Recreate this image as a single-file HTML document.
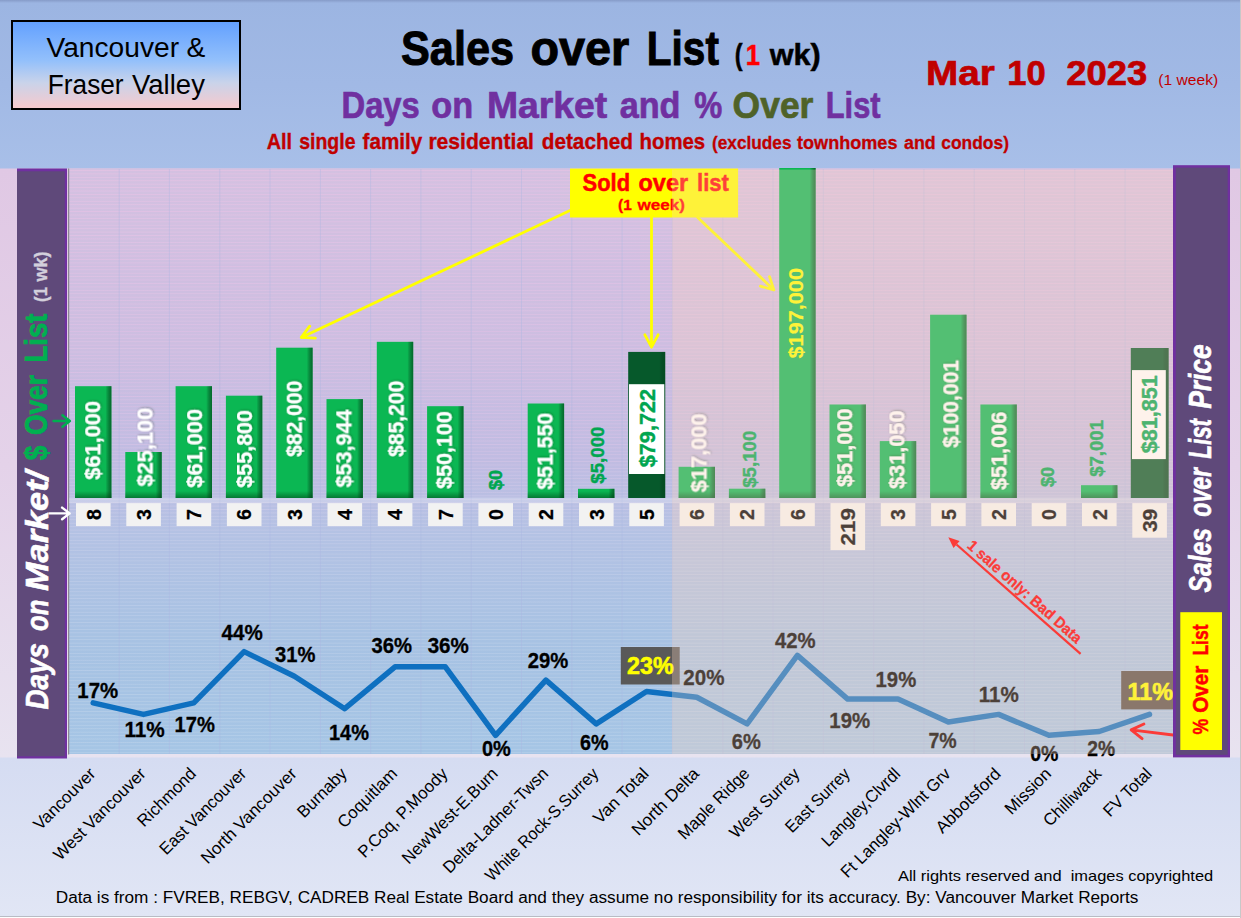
<!DOCTYPE html>
<html lang="en"><head><meta charset="utf-8"><title>Sales over List - Days on Market and % Over List</title>
<style>
html,body{margin:0;padding:0;background:#fff;}
body{width:1241px;height:918px;overflow:hidden;}
svg{display:block;font-family:'Liberation Sans', sans-serif;}
text{white-space:pre;}
.b{font-weight:bold;}
.bi{font-weight:bold;font-style:italic;}
</style></head><body>
<svg width="1241" height="918" viewBox="0 0 1241 918">
<defs>
<linearGradient id="gHead" x1="0" y1="0" x2="0" y2="1"><stop offset="0" stop-color="#869bc8"/><stop offset="0.018" stop-color="#9cb5e2"/><stop offset="0.5" stop-color="#a1b9e5"/><stop offset="1" stop-color="#a8bfe8"/></linearGradient>
<linearGradient id="gSide" x1="0" y1="0" x2="0" y2="1"><stop offset="0" stop-color="#e0c8e4"/><stop offset="0.5" stop-color="#e4d2e9"/><stop offset="1" stop-color="#e8e3f0"/></linearGradient>
<linearGradient id="gFoot" x1="0" y1="0" x2="0" y2="1"><stop offset="0" stop-color="#d5dcf2"/><stop offset="1" stop-color="#e1e6f5"/></linearGradient>
<linearGradient id="gPlot" x1="0" y1="0" x2="0" y2="1"><stop offset="0" stop-color="#d4c1e1"/><stop offset="0.30" stop-color="#cdbee1"/><stop offset="0.50" stop-color="#c0bce2"/><stop offset="0.62" stop-color="#b4c2e4"/><stop offset="0.80" stop-color="#a7c2e3"/><stop offset="1" stop-color="#a5c5e5"/></linearGradient>
<linearGradient id="gBox" x1="0" y1="0" x2="0" y2="1"><stop offset="0" stop-color="#62a0ff"/><stop offset="0.45" stop-color="#93c0fb"/><stop offset="0.7" stop-color="#c9d3ea"/><stop offset="1" stop-color="#f8c9cc"/></linearGradient>
<linearGradient id="gBarR" x1="0" y1="0" x2="1" y2="0"><stop offset="0" stop-color="#000" stop-opacity="0"/><stop offset="0.84" stop-color="#000" stop-opacity="0"/><stop offset="1" stop-color="#003a12" stop-opacity="0.62"/></linearGradient>
<linearGradient id="gBarB" x1="0" y1="0" x2="0" y2="1"><stop offset="0" stop-color="#003a12" stop-opacity="0"/><stop offset="1" stop-color="#003a12" stop-opacity="0.5"/></linearGradient>
<filter id="ts" x="-20%" y="-20%" width="140%" height="140%"><feDropShadow dx="0.8" dy="0.8" stdDeviation="0.9" flood-color="#003010" flood-opacity="0.4"/></filter>
<pattern id="hgrid" x="0" y="170.00" width="10" height="3.425" patternUnits="userSpaceOnUse"><rect x="0" y="0" width="10" height="0.9" fill="#ffffff"/></pattern>
<mask id="mgrid"><rect x="68.0" y="169.0" width="1105.0" height="585.0" fill="url(#hgrid)"/></mask>
<linearGradient id="gLines" x1="0" y1="0" x2="0" y2="1"><stop offset="0" stop-color="#f4c4e8" stop-opacity="0.42"/><stop offset="0.45" stop-color="#ecc6ea" stop-opacity="0.34"/><stop offset="0.65" stop-color="#e6e6f6" stop-opacity="0.22"/><stop offset="1" stop-color="#ffffff" stop-opacity="0.16"/></linearGradient>
</defs>
<rect x="0" y="0" width="1241" height="918" fill="#ffffff"/>
<rect x="0" y="0" width="1241" height="169" fill="url(#gHead)"/>
<rect x="0" y="168.5" width="1241" height="592" fill="url(#gSide)"/>
<rect x="0" y="757.5" width="1240" height="158.5" fill="url(#gFoot)"/>
<rect x="0" y="916" width="1241" height="1" fill="#b9bcc4"/>
<rect x="1240" y="0" width="1" height="918" fill="#c8c8c8"/>
<rect x="68.0" y="168.5" width="1105.0" height="585.5" fill="url(#gPlot)"/>
<rect x="68.0" y="169.0" width="1105.0" height="585.0" fill="url(#gLines)" mask="url(#mgrid)"/>
<path d="M119.2 169.0V754.0M169.4 169.0V754.0M219.8 169.0V754.0M270.0 169.0V754.0M320.4 169.0V754.0M370.6 169.0V754.0M420.9 169.0V754.0M471.2 169.0V754.0M521.5 169.0V754.0M571.8 169.0V754.0M622.1 169.0V754.0M672.4 169.0V754.0M722.8 169.0V754.0M773.0 169.0V754.0M823.3 169.0V754.0M873.6 169.0V754.0M923.9 169.0V754.0M974.2 169.0V754.0M1024.5 169.0V754.0M1074.8 169.0V754.0M1125.1 169.0V754.0" stroke="#aab6e2" stroke-opacity="0.38" stroke-width="1" fill="none"/>
<rect x="68" y="168.5" width="1.2" height="586" fill="#8a8a92"/>
<rect x="69.0" y="497.6" width="1104.0" height="5.6" fill="#ffffff" fill-opacity="0.22"/>
<rect x="75.0" y="386.2" width="36.4" height="111.8" fill="#0bb753"/>
<rect x="75.0" y="386.2" width="36.4" height="111.8" fill="url(#gBarR)"/>
<rect x="75.0" y="491.0" width="36.4" height="7.0" fill="url(#gBarB)"/>
<rect x="125.3" y="452.0" width="36.4" height="46.0" fill="#0bb753"/>
<rect x="125.3" y="452.0" width="36.4" height="46.0" fill="url(#gBarR)"/>
<rect x="125.3" y="491.0" width="36.4" height="7.0" fill="url(#gBarB)"/>
<rect x="175.6" y="386.2" width="36.4" height="111.8" fill="#0bb753"/>
<rect x="175.6" y="386.2" width="36.4" height="111.8" fill="url(#gBarR)"/>
<rect x="175.6" y="491.0" width="36.4" height="7.0" fill="url(#gBarB)"/>
<rect x="225.9" y="395.7" width="36.4" height="102.3" fill="#0bb753"/>
<rect x="225.9" y="395.7" width="36.4" height="102.3" fill="url(#gBarR)"/>
<rect x="225.9" y="491.0" width="36.4" height="7.0" fill="url(#gBarB)"/>
<rect x="276.2" y="347.7" width="36.4" height="150.3" fill="#0bb753"/>
<rect x="276.2" y="347.7" width="36.4" height="150.3" fill="url(#gBarR)"/>
<rect x="276.2" y="491.0" width="36.4" height="7.0" fill="url(#gBarB)"/>
<rect x="326.5" y="399.1" width="36.4" height="98.9" fill="#0bb753"/>
<rect x="326.5" y="399.1" width="36.4" height="98.9" fill="url(#gBarR)"/>
<rect x="326.5" y="491.0" width="36.4" height="7.0" fill="url(#gBarB)"/>
<rect x="376.8" y="341.8" width="36.4" height="156.2" fill="#0bb753"/>
<rect x="376.8" y="341.8" width="36.4" height="156.2" fill="url(#gBarR)"/>
<rect x="376.8" y="491.0" width="36.4" height="7.0" fill="url(#gBarB)"/>
<rect x="427.1" y="406.2" width="36.4" height="91.8" fill="#0bb753"/>
<rect x="427.1" y="406.2" width="36.4" height="91.8" fill="url(#gBarR)"/>
<rect x="427.1" y="491.0" width="36.4" height="7.0" fill="url(#gBarB)"/>
<rect x="527.7" y="403.5" width="36.4" height="94.5" fill="#0bb753"/>
<rect x="527.7" y="403.5" width="36.4" height="94.5" fill="url(#gBarR)"/>
<rect x="527.7" y="491.0" width="36.4" height="7.0" fill="url(#gBarB)"/>
<rect x="578.0" y="488.8" width="36.4" height="9.2" fill="#0bb753"/>
<rect x="578.0" y="488.8" width="36.4" height="9.2" fill="url(#gBarR)"/>
<rect x="578.0" y="491.0" width="36.4" height="7.0" fill="url(#gBarB)"/>
<rect x="628.2" y="351.9" width="37.0" height="146.1" fill="#06592b"/>
<rect x="628.2" y="351.9" width="37.0" height="146.1" fill="url(#gBarR)" opacity="0.6"/>
<rect x="678.6" y="466.8" width="36.4" height="31.2" fill="#0bb753"/>
<rect x="678.6" y="466.8" width="36.4" height="31.2" fill="url(#gBarR)"/>
<rect x="678.6" y="491.0" width="36.4" height="7.0" fill="url(#gBarB)"/>
<rect x="728.9" y="488.7" width="36.4" height="9.3" fill="#0bb753"/>
<rect x="728.9" y="488.7" width="36.4" height="9.3" fill="url(#gBarR)"/>
<rect x="728.9" y="491.0" width="36.4" height="7.0" fill="url(#gBarB)"/>
<rect x="779.2" y="168.0" width="36.4" height="330.0" fill="#0bb753"/>
<rect x="779.2" y="168.0" width="36.4" height="330.0" fill="url(#gBarR)"/>
<rect x="779.2" y="491.0" width="36.4" height="7.0" fill="url(#gBarB)"/>
<rect x="829.5" y="404.5" width="36.4" height="93.5" fill="#0bb753"/>
<rect x="829.5" y="404.5" width="36.4" height="93.5" fill="url(#gBarR)"/>
<rect x="829.5" y="491.0" width="36.4" height="7.0" fill="url(#gBarB)"/>
<rect x="879.8" y="441.1" width="36.4" height="56.9" fill="#0bb753"/>
<rect x="879.8" y="441.1" width="36.4" height="56.9" fill="url(#gBarR)"/>
<rect x="879.8" y="491.0" width="36.4" height="7.0" fill="url(#gBarB)"/>
<rect x="930.1" y="314.7" width="36.4" height="183.3" fill="#0bb753"/>
<rect x="930.1" y="314.7" width="36.4" height="183.3" fill="url(#gBarR)"/>
<rect x="930.1" y="491.0" width="36.4" height="7.0" fill="url(#gBarB)"/>
<rect x="980.4" y="404.5" width="36.4" height="93.5" fill="#0bb753"/>
<rect x="980.4" y="404.5" width="36.4" height="93.5" fill="url(#gBarR)"/>
<rect x="980.4" y="491.0" width="36.4" height="7.0" fill="url(#gBarB)"/>
<rect x="1081.0" y="485.2" width="36.4" height="12.8" fill="#0bb753"/>
<rect x="1081.0" y="485.2" width="36.4" height="12.8" fill="url(#gBarR)"/>
<rect x="1081.0" y="491.0" width="36.4" height="7.0" fill="url(#gBarB)"/>
<rect x="1130.8" y="348.0" width="37.8" height="150.0" fill="#06592b"/>
<rect x="1130.8" y="348.0" width="37.8" height="150.0" fill="url(#gBarR)" opacity="0.6"/>
<rect x="629" y="384.2" width="35.3" height="89.8" fill="#ffffff"/>
<rect x="1132" y="370.1" width="33.8" height="89" fill="#ffffff"/>
<text class="b" transform="translate(100.2 479.8) rotate(-90)" font-size="21.6" fill="#ffffff" textLength="78.9" lengthAdjust="spacingAndGlyphs" filter="url(#ts)" stroke="#ffffff" stroke-width="0.25">$61,000</text>
<text class="b" transform="translate(152.5 486.6) rotate(-90)" font-size="21.6" fill="#ffffff" textLength="78.9" lengthAdjust="spacingAndGlyphs" filter="url(#ts)" stroke="#ffffff" stroke-width="0.25">$25,100</text>
<text class="b" transform="translate(202.1 487.8) rotate(-90)" font-size="21.6" fill="#ffffff" textLength="78.9" lengthAdjust="spacingAndGlyphs" filter="url(#ts)" stroke="#ffffff" stroke-width="0.25">$61,000</text>
<text class="b" transform="translate(252.0 487.8) rotate(-90)" font-size="21.6" fill="#ffffff" textLength="77.8" lengthAdjust="spacingAndGlyphs" filter="url(#ts)" stroke="#ffffff" stroke-width="0.25">$55,800</text>
<text class="b" transform="translate(301.7 456.9) rotate(-90)" font-size="21.6" fill="#ffffff" textLength="76.1" lengthAdjust="spacingAndGlyphs" filter="url(#ts)" stroke="#ffffff" stroke-width="0.25">$82,000</text>
<text class="b" transform="translate(351.3 487.5) rotate(-90)" font-size="21.6" fill="#ffffff" textLength="78.0" lengthAdjust="spacingAndGlyphs" filter="url(#ts)" stroke="#ffffff" stroke-width="0.25">$53,944</text>
<text class="b" transform="translate(403.6 456.9) rotate(-90)" font-size="21.6" fill="#ffffff" textLength="76.1" lengthAdjust="spacingAndGlyphs" filter="url(#ts)" stroke="#ffffff" stroke-width="0.25">$85,200</text>
<text class="b" transform="translate(451.7 488.9) rotate(-90)" font-size="21.6" fill="#ffffff" textLength="77.7" lengthAdjust="spacingAndGlyphs" filter="url(#ts)" stroke="#ffffff" stroke-width="0.25">$50,100</text>
<text class="b" transform="translate(502.4 490.0) rotate(-90)" font-size="18.8" fill="#00a650" textLength="20.0" lengthAdjust="spacingAndGlyphs" stroke="#00a650" stroke-width="0.45">$0</text>
<text class="b" transform="translate(552.5 489.6) rotate(-90)" font-size="21.6" fill="#ffffff" textLength="76.8" lengthAdjust="spacingAndGlyphs" filter="url(#ts)" stroke="#ffffff" stroke-width="0.25">$51,550</text>
<text class="b" transform="translate(603.8 483.7) rotate(-90)" font-size="18.8" fill="#00a650" textLength="57.2" lengthAdjust="spacingAndGlyphs" stroke="#00a650" stroke-width="0.45">$5,000</text>
<text class="b" transform="translate(654.8 467.2) rotate(-90)" font-size="21.6" fill="#00a650" textLength="78.2" lengthAdjust="spacingAndGlyphs" stroke="#00a650" stroke-width="0.40">$79,722</text>
<text class="b" transform="translate(706.4 492.4) rotate(-90)" font-size="21.6" fill="#ffffff" textLength="78.9" lengthAdjust="spacingAndGlyphs" filter="url(#ts)" stroke="#ffffff" stroke-width="0.25">$17,000</text>
<text class="b" transform="translate(756.4 487.8) rotate(-90)" font-size="18.8" fill="#00a650" textLength="57.2" lengthAdjust="spacingAndGlyphs" stroke="#00a650" stroke-width="0.45">$5,100</text>
<text class="b" transform="translate(803.0 358.5) rotate(-90)" font-size="20.6" fill="#ffff00" textLength="90.5" lengthAdjust="spacingAndGlyphs" stroke="#ffff00" stroke-width="0.15">$197,000</text>
<text class="b" transform="translate(852.2 487.0) rotate(-90)" font-size="21.6" fill="#ffffff" textLength="78.6" lengthAdjust="spacingAndGlyphs" filter="url(#ts)" stroke="#ffffff" stroke-width="0.25">$51,000</text>
<text class="b" transform="translate(904.4 489.0) rotate(-90)" font-size="21.6" fill="#ffffff" textLength="78.5" lengthAdjust="spacingAndGlyphs" filter="url(#ts)" stroke="#ffffff" stroke-width="0.25">$31,050</text>
<text class="b" transform="translate(958.3 447.8) rotate(-90)" font-size="21.6" fill="#ffffff" textLength="87.8" lengthAdjust="spacingAndGlyphs" filter="url(#ts)" stroke="#ffffff" stroke-width="0.25">$100,001</text>
<text class="b" transform="translate(1006.4 490.0) rotate(-90)" font-size="21.6" fill="#ffffff" textLength="78.2" lengthAdjust="spacingAndGlyphs" filter="url(#ts)" stroke="#ffffff" stroke-width="0.25">$51,006</text>
<text class="b" transform="translate(1054.4 487.0) rotate(-90)" font-size="18.8" fill="#00a650" textLength="20.0" lengthAdjust="spacingAndGlyphs" stroke="#00a650" stroke-width="0.45">$0</text>
<text class="b" transform="translate(1102.8 476.8) rotate(-90)" font-size="18.8" fill="#00a650" textLength="56.8" lengthAdjust="spacingAndGlyphs" stroke="#00a650" stroke-width="0.45">$7,001</text>
<text class="b" transform="translate(1156.9 453.2) rotate(-90)" font-size="21.6" fill="#00a650" textLength="77.9" lengthAdjust="spacingAndGlyphs" stroke="#00a650" stroke-width="0.40">$81,851</text>
<rect x="76.0" y="503.1" width="34.6" height="23.0" fill="#f2f2f2"/>
<text class="b" transform="translate(100.5 520.1) rotate(-90)" font-size="20.4" fill="#000" stroke="#000" stroke-width="0.25" textLength="10.9" lengthAdjust="spacingAndGlyphs">8</text>
<rect x="126.3" y="503.1" width="34.6" height="23.0" fill="#f2f2f2"/>
<text class="b" transform="translate(150.8 520.1) rotate(-90)" font-size="20.4" fill="#000" stroke="#000" stroke-width="0.25" textLength="10.9" lengthAdjust="spacingAndGlyphs">3</text>
<rect x="176.6" y="503.1" width="34.6" height="23.0" fill="#f2f2f2"/>
<text class="b" transform="translate(201.1 520.1) rotate(-90)" font-size="20.4" fill="#000" stroke="#000" stroke-width="0.25" textLength="10.9" lengthAdjust="spacingAndGlyphs">7</text>
<rect x="226.9" y="503.1" width="34.6" height="23.0" fill="#f2f2f2"/>
<text class="b" transform="translate(251.4 520.1) rotate(-90)" font-size="20.4" fill="#000" stroke="#000" stroke-width="0.25" textLength="10.9" lengthAdjust="spacingAndGlyphs">6</text>
<rect x="277.2" y="503.1" width="34.6" height="23.0" fill="#f2f2f2"/>
<text class="b" transform="translate(301.7 520.1) rotate(-90)" font-size="20.4" fill="#000" stroke="#000" stroke-width="0.25" textLength="10.9" lengthAdjust="spacingAndGlyphs">3</text>
<rect x="327.5" y="503.1" width="34.6" height="23.0" fill="#f2f2f2"/>
<text class="b" transform="translate(352.0 520.1) rotate(-90)" font-size="20.4" fill="#000" stroke="#000" stroke-width="0.25" textLength="10.9" lengthAdjust="spacingAndGlyphs">4</text>
<rect x="377.8" y="503.1" width="34.6" height="23.0" fill="#f2f2f2"/>
<text class="b" transform="translate(402.3 520.1) rotate(-90)" font-size="20.4" fill="#000" stroke="#000" stroke-width="0.25" textLength="10.9" lengthAdjust="spacingAndGlyphs">4</text>
<rect x="428.1" y="503.1" width="34.6" height="23.0" fill="#f2f2f2"/>
<text class="b" transform="translate(452.6 520.1) rotate(-90)" font-size="20.4" fill="#000" stroke="#000" stroke-width="0.25" textLength="10.9" lengthAdjust="spacingAndGlyphs">7</text>
<rect x="478.4" y="503.1" width="34.6" height="23.0" fill="#f2f2f2"/>
<text class="b" transform="translate(502.9 520.1) rotate(-90)" font-size="20.4" fill="#000" stroke="#000" stroke-width="0.25" textLength="10.9" lengthAdjust="spacingAndGlyphs">0</text>
<rect x="528.7" y="503.1" width="34.6" height="23.0" fill="#f2f2f2"/>
<text class="b" transform="translate(553.2 520.1) rotate(-90)" font-size="20.4" fill="#000" stroke="#000" stroke-width="0.25" textLength="10.9" lengthAdjust="spacingAndGlyphs">2</text>
<rect x="579.0" y="503.1" width="34.6" height="23.0" fill="#f2f2f2"/>
<text class="b" transform="translate(603.5 520.1) rotate(-90)" font-size="20.4" fill="#000" stroke="#000" stroke-width="0.25" textLength="10.9" lengthAdjust="spacingAndGlyphs">3</text>
<rect x="629.3" y="503.1" width="34.6" height="23.0" fill="#f2f2f2"/>
<text class="b" transform="translate(653.8 520.1) rotate(-90)" font-size="20.4" fill="#000" stroke="#000" stroke-width="0.25" textLength="10.9" lengthAdjust="spacingAndGlyphs">5</text>
<rect x="679.6" y="503.1" width="34.6" height="23.0" fill="#f5f5f3"/>
<text class="b" transform="translate(704.1 520.1) rotate(-90)" font-size="20.4" fill="#000" stroke="#000" stroke-width="0.25" textLength="10.9" lengthAdjust="spacingAndGlyphs">6</text>
<rect x="729.9" y="503.1" width="34.6" height="23.0" fill="#f5f5f3"/>
<text class="b" transform="translate(754.4 520.1) rotate(-90)" font-size="20.4" fill="#000" stroke="#000" stroke-width="0.25" textLength="10.9" lengthAdjust="spacingAndGlyphs">2</text>
<rect x="780.2" y="503.1" width="34.6" height="23.0" fill="#f5f5f3"/>
<text class="b" transform="translate(804.7 520.1) rotate(-90)" font-size="20.4" fill="#000" stroke="#000" stroke-width="0.25" textLength="10.9" lengthAdjust="spacingAndGlyphs">6</text>
<rect x="830.5" y="503.1" width="34.6" height="47.0" fill="#f5f5f3"/>
<text class="b" transform="translate(855.0 545.4) rotate(-90)" font-size="20.4" fill="#000" stroke="#000" stroke-width="0.25" textLength="37.5" lengthAdjust="spacingAndGlyphs">219</text>
<rect x="880.8" y="503.1" width="34.6" height="23.0" fill="#f5f5f3"/>
<text class="b" transform="translate(905.3 520.1) rotate(-90)" font-size="20.4" fill="#000" stroke="#000" stroke-width="0.25" textLength="10.9" lengthAdjust="spacingAndGlyphs">3</text>
<rect x="931.1" y="503.1" width="34.6" height="23.0" fill="#f5f5f3"/>
<text class="b" transform="translate(955.6 520.1) rotate(-90)" font-size="20.4" fill="#000" stroke="#000" stroke-width="0.25" textLength="10.9" lengthAdjust="spacingAndGlyphs">5</text>
<rect x="981.4" y="503.1" width="34.6" height="23.0" fill="#f5f5f3"/>
<text class="b" transform="translate(1005.9 520.1) rotate(-90)" font-size="20.4" fill="#000" stroke="#000" stroke-width="0.25" textLength="10.9" lengthAdjust="spacingAndGlyphs">2</text>
<rect x="1031.7" y="503.1" width="34.6" height="23.0" fill="#f5f5f3"/>
<text class="b" transform="translate(1056.2 520.1) rotate(-90)" font-size="20.4" fill="#000" stroke="#000" stroke-width="0.25" textLength="10.9" lengthAdjust="spacingAndGlyphs">0</text>
<rect x="1082.0" y="503.1" width="34.6" height="23.0" fill="#f5f5f3"/>
<text class="b" transform="translate(1106.5 520.1) rotate(-90)" font-size="20.4" fill="#000" stroke="#000" stroke-width="0.25" textLength="10.9" lengthAdjust="spacingAndGlyphs">2</text>
<rect x="1132.3" y="503.1" width="34.6" height="34.6" fill="#f5f5f3"/>
<text class="b" transform="translate(1156.8 532.1) rotate(-90)" font-size="20.4" fill="#000" stroke="#000" stroke-width="0.25" textLength="23.4" lengthAdjust="spacingAndGlyphs">39</text>
<polyline points="93.2,702.9 143.5,714.4 193.8,702.9 244.1,651.6 294.4,676.3 344.7,708.7 395.0,666.8 445.3,666.8 495.6,735.3 545.9,680.1 596.2,723.9 646.5,691.5 696.8,697.2 747.1,723.9 797.4,655.4 847.7,699.1 898.0,699.1 948.3,722.0 998.6,714.4 1048.9,735.3 1099.2,731.5 1149.5,714.4" fill="none" stroke="#0f70c0" stroke-width="5.5" stroke-linejoin="round" stroke-linecap="round"/>
<rect x="620.8" y="647" width="58.9" height="37.5" fill="#595959"/>
<rect x="1121.2" y="671" width="52.3" height="38.4" fill="#5a5048"/>
<text class="b" x="77.3" y="697.8" font-size="21.4" fill="#000" stroke="#000" stroke-width="0.3" textLength="40.8" lengthAdjust="spacingAndGlyphs">17%</text>
<text class="b" x="124.4" y="737.3" font-size="21.4" fill="#000" stroke="#000" stroke-width="0.3" textLength="40.3" lengthAdjust="spacingAndGlyphs">11%</text>
<text class="b" x="174.5" y="731.8" font-size="21.4" fill="#000" stroke="#000" stroke-width="0.3" textLength="40.3" lengthAdjust="spacingAndGlyphs">17%</text>
<text class="b" x="221.6" y="640.3" font-size="21.4" fill="#000" stroke="#000" stroke-width="0.3" textLength="41.1" lengthAdjust="spacingAndGlyphs">44%</text>
<text class="b" x="275.0" y="662.2" font-size="21.4" fill="#000" stroke="#000" stroke-width="0.3" textLength="40.3" lengthAdjust="spacingAndGlyphs">31%</text>
<text class="b" x="329.0" y="739.5" font-size="21.4" fill="#000" stroke="#000" stroke-width="0.3" textLength="40.0" lengthAdjust="spacingAndGlyphs">14%</text>
<text class="b" x="371.5" y="653.2" font-size="21.4" fill="#000" stroke="#000" stroke-width="0.3" textLength="40.5" lengthAdjust="spacingAndGlyphs">36%</text>
<text class="b" x="427.7" y="653.2" font-size="21.4" fill="#000" stroke="#000" stroke-width="0.3" textLength="41.1" lengthAdjust="spacingAndGlyphs">36%</text>
<text class="b" x="481.9" y="755.9" font-size="21.4" fill="#000" stroke="#000" stroke-width="0.3" textLength="28.8" lengthAdjust="spacingAndGlyphs">0%</text>
<text class="b" x="527.7" y="668.2" font-size="21.4" fill="#000" stroke="#000" stroke-width="0.3" textLength="40.5" lengthAdjust="spacingAndGlyphs">29%</text>
<text class="b" x="580.0" y="749.9" font-size="21.4" fill="#000" stroke="#000" stroke-width="0.3" textLength="28.5" lengthAdjust="spacingAndGlyphs">6%</text>
<text class="b" x="683.3" y="684.7" font-size="21.4" fill="#000" stroke="#000" stroke-width="0.3" textLength="41.1" lengthAdjust="spacingAndGlyphs">20%</text>
<text class="b" x="731.8" y="749.1" font-size="21.4" fill="#000" stroke="#000" stroke-width="0.3" textLength="29.0" lengthAdjust="spacingAndGlyphs">6%</text>
<text class="b" x="775.0" y="647.7" font-size="21.4" fill="#000" stroke="#000" stroke-width="0.3" textLength="40.6" lengthAdjust="spacingAndGlyphs">42%</text>
<text class="b" x="829.3" y="727.7" font-size="21.4" fill="#000" stroke="#000" stroke-width="0.3" textLength="40.8" lengthAdjust="spacingAndGlyphs">19%</text>
<text class="b" x="875.6" y="687.4" font-size="21.4" fill="#000" stroke="#000" stroke-width="0.3" textLength="40.6" lengthAdjust="spacingAndGlyphs">19%</text>
<text class="b" x="928.5" y="747.7" font-size="21.4" fill="#000" stroke="#000" stroke-width="0.3" textLength="28.2" lengthAdjust="spacingAndGlyphs">7%</text>
<text class="b" x="978.8" y="702.4" font-size="21.4" fill="#000" stroke="#000" stroke-width="0.3" textLength="40.0" lengthAdjust="spacingAndGlyphs">11%</text>
<text class="b" x="1030.2" y="760.6" font-size="21.4" fill="#000" stroke="#000" stroke-width="0.3" textLength="28.2" lengthAdjust="spacingAndGlyphs">0%</text>
<text class="b" x="1087.2" y="755.7" font-size="21.4" fill="#000" stroke="#000" stroke-width="0.3" textLength="27.9" lengthAdjust="spacingAndGlyphs">2%</text>
<text class="b" x="627.1" y="674.4" font-size="24" fill="#ffff00" stroke="#ffff00" stroke-width="0.6" textLength="46.6" lengthAdjust="spacingAndGlyphs">23%</text>
<text class="b" x="1127.6" y="699.6" font-size="24" fill="#ffff00" stroke="#ffff00" stroke-width="0.6" textLength="45.4" lengthAdjust="spacingAndGlyphs">11%</text>
<rect x="570" y="168.6" width="168.1" height="48.9" fill="#ffff00"/>
<text class="b" x="582.6" y="190.6" font-size="23.6" fill="#ff0000" stroke="#ff0000" stroke-width="0.50" textLength="47.5" lengthAdjust="spacingAndGlyphs">Sold</text>
<text class="b" x="638.5" y="190.6" font-size="23.6" fill="#ff0000" stroke="#ff0000" stroke-width="0.50" textLength="49.6" lengthAdjust="spacingAndGlyphs">over</text>
<text class="b" x="697.0" y="190.6" font-size="23.6" fill="#ff0000" stroke="#ff0000" stroke-width="0.50" textLength="31.9" lengthAdjust="spacingAndGlyphs">list</text>
<text class="b" x="618.0" y="210.0" font-size="14.7" fill="#ff0000" stroke="#ff0000" stroke-width="0.30" textLength="13.7" lengthAdjust="spacingAndGlyphs">(1</text>
<text class="b" x="637.4" y="210.0" font-size="14.7" fill="#ff0000" stroke="#ff0000" stroke-width="0.30" textLength="47.5" lengthAdjust="spacingAndGlyphs">week)</text>
<path d="M570.5 210.3L301.3 337.4M309.7 326.2L301.3 337.4M315.3 338.1L301.3 337.4" fill="none" stroke="#ffff00" stroke-width="2.8" stroke-linecap="round" stroke-linejoin="round"/>
<path d="M651.5 217.0L651.5 347.2M644.9 334.8L651.5 347.2M658.1 334.8L651.5 347.2" fill="none" stroke="#ffff00" stroke-width="2.8" stroke-linecap="round" stroke-linejoin="round"/>
<path d="M697.7 217.5L773.9 289.9M760.4 286.2L773.9 289.9M769.5 276.6L773.9 289.9" fill="none" stroke="#ffff00" stroke-width="2.8" stroke-linecap="round" stroke-linejoin="round"/>
<rect x="672.0" y="169.6" width="501.0" height="584.4" fill="#fcd5bc" fill-opacity="0.30"/>
<path d="M1080.6 653.9L956.5 544.5" stroke="#fb3b38" stroke-width="2.2" fill="none"/>
<path d="M948.3 537.2L953.5 547.9L959.6 541.0Z" fill="#fb3b38"/>
<text class="b" transform="translate(966.2 546.9) rotate(41.42)" font-size="15.2" fill="#fb3b38" stroke="#fb3b38" stroke-width="0.3" textLength="147" lengthAdjust="spacingAndGlyphs">1 sale only: Bad Data</text>
<path d="M1173.0 735.0L1131.2 729.9M1143.9 724.0L1131.2 729.9M1142.1 738.7L1131.2 729.9" fill="none" stroke="#fb3b38" stroke-width="2.9" stroke-linecap="round" stroke-linejoin="round"/>
<rect x="17" y="168.5" width="50" height="590" fill="#7030a0"/>
<rect x="17" y="171.3" width="47.8" height="585.0" fill="#5f497a"/>
<rect x="1173" y="165.2" width="57" height="592.2" fill="#7030a0"/>
<rect x="1175.8" y="167.6" width="51.9" height="587.2" fill="#5f497a"/>
<rect x="1180.3" y="612.2" width="41.7" height="137.8" fill="#ffff00"/>
<text class="bi" transform="translate(47.5 709.6) rotate(-90)" font-size="31.0" fill="#ffffff" stroke="#ffffff" stroke-width="0.60" textLength="66.6" lengthAdjust="spacingAndGlyphs">Days</text>
<text class="bi" transform="translate(47.5 630.9) rotate(-90)" font-size="31.0" fill="#ffffff" stroke="#ffffff" stroke-width="0.60" textLength="31.3" lengthAdjust="spacingAndGlyphs">on</text>
<text class="bi" transform="translate(47.5 591.0) rotate(-90)" font-size="31.0" fill="#ffffff" stroke="#ffffff" stroke-width="0.60" textLength="120.1" lengthAdjust="spacingAndGlyphs">Market/</text>
<text class="b" transform="translate(47.2 460.2) rotate(-90)" font-size="31.0" fill="#00b050" stroke="#00b050" stroke-width="0.70" textLength="14.6" lengthAdjust="spacingAndGlyphs">$</text>
<text class="b" transform="translate(47.2 435.0) rotate(-90)" font-size="31.0" fill="#00b050" stroke="#00b050" stroke-width="0.70" textLength="60.0" lengthAdjust="spacingAndGlyphs">Over</text>
<text class="b" transform="translate(47.2 362.4) rotate(-90)" font-size="31.0" fill="#00b050" stroke="#00b050" stroke-width="0.70" textLength="48.8" lengthAdjust="spacingAndGlyphs">List</text>
<text class="b" transform="translate(47.2 301.9) rotate(-90)" font-size="18.6" fill="#d3d0dc" stroke="#d3d0dc" stroke-width="0.40" textLength="14.9" lengthAdjust="spacingAndGlyphs">(1</text>
<text class="b" transform="translate(47.2 281.5) rotate(-90)" font-size="18.6" fill="#d3d0dc" stroke="#d3d0dc" stroke-width="0.40" textLength="30.1" lengthAdjust="spacingAndGlyphs">wk)</text>
<path d="M53.5 421.0L69.9 421.0M62.4 426.8L69.9 421.0M62.4 415.2L69.9 421.0" fill="none" stroke="#00b050" stroke-width="2.4" stroke-linecap="round" stroke-linejoin="round"/>
<path d="M49.5 513.4L69.6 513.4M62.1 519.2L69.6 513.4M62.1 507.6L69.6 513.4" fill="none" stroke="#ffffff" stroke-width="2.4" stroke-linecap="round" stroke-linejoin="round"/>
<text class="bi" transform="translate(1211.0 592.4) rotate(-90)" font-size="31.0" fill="#ffffff" stroke="#ffffff" stroke-width="0.60" textLength="64.2" lengthAdjust="spacingAndGlyphs">Sales</text>
<text class="bi" transform="translate(1211.0 516.7) rotate(-90)" font-size="31.0" fill="#ffffff" stroke="#ffffff" stroke-width="0.60" textLength="48.7" lengthAdjust="spacingAndGlyphs">over</text>
<text class="bi" transform="translate(1211.0 458.8) rotate(-90)" font-size="31.0" fill="#ffffff" stroke="#ffffff" stroke-width="0.60" textLength="39.9" lengthAdjust="spacingAndGlyphs">List</text>
<text class="bi" transform="translate(1211.0 408.8) rotate(-90)" font-size="31.0" fill="#ffffff" stroke="#ffffff" stroke-width="0.60" textLength="64.5" lengthAdjust="spacingAndGlyphs">Price</text>
<text class="b" transform="translate(1208.4 734.4) rotate(-90)" font-size="22.6" fill="#ff0000" stroke="#ff0000" stroke-width="0.50" textLength="15.8" lengthAdjust="spacingAndGlyphs">%</text>
<text class="b" transform="translate(1208.4 712.7) rotate(-90)" font-size="22.6" fill="#ff0000" stroke="#ff0000" stroke-width="0.50" textLength="46.9" lengthAdjust="spacingAndGlyphs">Over</text>
<text class="b" transform="translate(1208.4 655.6) rotate(-90)" font-size="22.6" fill="#ff0000" stroke="#ff0000" stroke-width="0.50" textLength="31.1" lengthAdjust="spacingAndGlyphs">List</text>
<rect x="12" y="21" width="228" height="88" fill="url(#gBox)" stroke="#000" stroke-width="2"/>
<text class="" x="46.5" y="56.6" font-size="27.0" fill="#000" textLength="132.6" lengthAdjust="spacingAndGlyphs">Vancouver</text>
<text class="" x="186.5" y="56.6" font-size="27.0" fill="#000" textLength="18.8" lengthAdjust="spacingAndGlyphs">&amp;</text>
<text class="" x="47.8" y="93.9" font-size="27.0" fill="#000" textLength="75.8" lengthAdjust="spacingAndGlyphs">Fraser</text>
<text class="" x="132.0" y="93.9" font-size="27.0" fill="#000" textLength="72.9" lengthAdjust="spacingAndGlyphs">Valley</text>
<text class="b" x="401.0" y="65.0" font-size="49.0" fill="#000" stroke="#000" stroke-width="1.00" textLength="113.0" lengthAdjust="spacingAndGlyphs">Sales</text>
<text class="b" x="530.4" y="65.0" font-size="49.0" fill="#000" stroke="#000" stroke-width="1.00" textLength="98.9" lengthAdjust="spacingAndGlyphs">over</text>
<text class="b" x="646.8" y="65.0" font-size="49.0" fill="#000" stroke="#000" stroke-width="1.00" textLength="72.1" lengthAdjust="spacingAndGlyphs">List</text>
<text class="b" x="734.8" y="65.0" font-size="30.0" fill="#000" stroke="#000" stroke-width="0.50" textLength="7.8" lengthAdjust="spacingAndGlyphs">(</text>
<text class="b" x="745.7" y="65.0" font-size="30.0" fill="#ff0000" stroke="#ff0000" stroke-width="0.50" textLength="14.3" lengthAdjust="spacingAndGlyphs">1</text>
<text class="b" x="769.8" y="65.0" font-size="30.0" fill="#000" stroke="#000" stroke-width="0.50" textLength="50.9" lengthAdjust="spacingAndGlyphs">wk)</text>
<text class="b" x="341.5" y="118.0" font-size="37.3" fill="#7030a0" stroke="#7030a0" stroke-width="0.70" textLength="78.3" lengthAdjust="spacingAndGlyphs">Days</text>
<text class="b" x="431.3" y="118.0" font-size="37.3" fill="#7030a0" stroke="#7030a0" stroke-width="0.70" textLength="41.9" lengthAdjust="spacingAndGlyphs">on</text>
<text class="b" x="486.9" y="118.0" font-size="37.3" fill="#7030a0" stroke="#7030a0" stroke-width="0.70" textLength="120.4" lengthAdjust="spacingAndGlyphs">Market</text>
<text class="b" x="619.7" y="118.0" font-size="37.3" fill="#7030a0" stroke="#7030a0" stroke-width="0.70" textLength="60.8" lengthAdjust="spacingAndGlyphs">and</text>
<text class="b" x="694.2" y="118.0" font-size="37.3" fill="#7030a0" stroke="#7030a0" stroke-width="0.70" textLength="28.0" lengthAdjust="spacingAndGlyphs">%</text>
<text class="b" x="732.6" y="118.0" font-size="37.3" fill="#4f6228" stroke="#4f6228" stroke-width="0.70" textLength="80.8" lengthAdjust="spacingAndGlyphs">Over</text>
<text class="b" x="825.8" y="118.0" font-size="37.3" fill="#7030a0" stroke="#7030a0" stroke-width="0.70" textLength="54.7" lengthAdjust="spacingAndGlyphs">List</text>
<text class="b" x="266.7" y="149.3" font-size="21.4" fill="#c00000" stroke="#c00000" stroke-width="0.35" textLength="25.4" lengthAdjust="spacingAndGlyphs">All</text>
<text class="b" x="299.2" y="149.3" font-size="21.4" fill="#c00000" stroke="#c00000" stroke-width="0.35" textLength="56.3" lengthAdjust="spacingAndGlyphs">single</text>
<text class="b" x="362.6" y="149.3" font-size="21.4" fill="#c00000" stroke="#c00000" stroke-width="0.35" textLength="59.7" lengthAdjust="spacingAndGlyphs">family</text>
<text class="b" x="428.4" y="149.3" font-size="21.4" fill="#c00000" stroke="#c00000" stroke-width="0.35" textLength="105.6" lengthAdjust="spacingAndGlyphs">residential</text>
<text class="b" x="541.7" y="149.3" font-size="21.4" fill="#c00000" stroke="#c00000" stroke-width="0.35" textLength="91.2" lengthAdjust="spacingAndGlyphs">detached</text>
<text class="b" x="639.5" y="149.3" font-size="21.4" fill="#c00000" stroke="#c00000" stroke-width="0.35" textLength="65.7" lengthAdjust="spacingAndGlyphs">homes</text>
<text class="b" x="712.0" y="149.3" font-size="19.2" fill="#c00000" stroke="#c00000" stroke-width="0.30" textLength="79.5" lengthAdjust="spacingAndGlyphs">(excludes</text>
<text class="b" x="797.0" y="149.3" font-size="19.2" fill="#c00000" stroke="#c00000" stroke-width="0.30" textLength="100.5" lengthAdjust="spacingAndGlyphs">townhomes</text>
<text class="b" x="904.0" y="149.3" font-size="19.2" fill="#c00000" stroke="#c00000" stroke-width="0.30" textLength="31.7" lengthAdjust="spacingAndGlyphs">and</text>
<text class="b" x="941.2" y="149.3" font-size="19.2" fill="#c00000" stroke="#c00000" stroke-width="0.30" textLength="67.8" lengthAdjust="spacingAndGlyphs">condos)</text>
<text class="b" x="926.0" y="85.0" font-size="35.3" fill="#c00000" stroke="#c00000" stroke-width="0.70" textLength="68.8" lengthAdjust="spacingAndGlyphs">Mar</text>
<text class="b" x="1007.2" y="85.0" font-size="35.3" fill="#c00000" stroke="#c00000" stroke-width="0.70" textLength="38.4" lengthAdjust="spacingAndGlyphs">10</text>
<text class="b" x="1066.3" y="85.0" font-size="35.3" fill="#c00000" stroke="#c00000" stroke-width="0.70" textLength="81.0" lengthAdjust="spacingAndGlyphs">2023</text>
<text x="1158.3" y="85" font-size="15" fill="#c00000" textLength="59.9" lengthAdjust="spacingAndGlyphs">(1 week)</text>
<text transform="translate(96.5 774.8) rotate(-45)" x="-79.5" y="0" font-size="17" fill="#000" textLength="79.5" lengthAdjust="spacingAndGlyphs">Vancouver</text>
<text transform="translate(146.8 774.8) rotate(-45)" x="-122.3" y="0" font-size="17" fill="#000" textLength="122.3" lengthAdjust="spacingAndGlyphs">West Vancouver</text>
<text transform="translate(197.1 774.8) rotate(-45)" x="-75.0" y="0" font-size="17" fill="#000" textLength="75.0" lengthAdjust="spacingAndGlyphs">Richmond</text>
<text transform="translate(247.4 774.8) rotate(-45)" x="-114.6" y="0" font-size="17" fill="#000" textLength="114.6" lengthAdjust="spacingAndGlyphs">East Vancouver</text>
<text transform="translate(297.7 774.8) rotate(-45)" x="-127.2" y="0" font-size="17" fill="#000" textLength="127.2" lengthAdjust="spacingAndGlyphs">North Vancouver</text>
<text transform="translate(348.0 774.8) rotate(-45)" x="-62.2" y="0" font-size="17" fill="#000" textLength="62.2" lengthAdjust="spacingAndGlyphs">Burnaby</text>
<text transform="translate(398.3 774.8) rotate(-45)" x="-76.6" y="0" font-size="17" fill="#000" textLength="76.6" lengthAdjust="spacingAndGlyphs">Coquitlam</text>
<text transform="translate(448.6 774.8) rotate(-45)" x="-118.7" y="0" font-size="17" fill="#000" textLength="118.7" lengthAdjust="spacingAndGlyphs">P.Coq, P.Moody</text>
<text transform="translate(498.9 774.8) rotate(-45)" x="-127.4" y="0" font-size="17" fill="#000" textLength="127.4" lengthAdjust="spacingAndGlyphs">NewWest-E.Burn</text>
<text transform="translate(549.2 774.8) rotate(-45)" x="-140.6" y="0" font-size="17" fill="#000" textLength="140.6" lengthAdjust="spacingAndGlyphs">Delta-Ladner-Twsn</text>
<text transform="translate(599.5 774.8) rotate(-45)" x="-151.9" y="0" font-size="17" fill="#000" textLength="151.9" lengthAdjust="spacingAndGlyphs">White Rock-S.Surrey</text>
<text transform="translate(649.8 774.8) rotate(-45)" x="-70.6" y="0" font-size="17" fill="#000" textLength="70.6" lengthAdjust="spacingAndGlyphs">Van Total</text>
<text transform="translate(700.1 774.8) rotate(-45)" x="-87.2" y="0" font-size="17" fill="#000" textLength="87.2" lengthAdjust="spacingAndGlyphs">North Delta</text>
<text transform="translate(750.4 774.8) rotate(-45)" x="-92.9" y="0" font-size="17" fill="#000" textLength="92.9" lengthAdjust="spacingAndGlyphs">Maple Ridge</text>
<text transform="translate(800.7 774.8) rotate(-45)" x="-91.0" y="0" font-size="17" fill="#000" textLength="91.0" lengthAdjust="spacingAndGlyphs">West Surrey</text>
<text transform="translate(851.0 774.8) rotate(-45)" x="-83.3" y="0" font-size="17" fill="#000" textLength="83.3" lengthAdjust="spacingAndGlyphs">East Surrey</text>
<text transform="translate(901.3 774.8) rotate(-45)" x="-103.3" y="0" font-size="17" fill="#000" textLength="103.3" lengthAdjust="spacingAndGlyphs">Langley,Clvrdl</text>
<text transform="translate(951.6 774.8) rotate(-45)" x="-147.1" y="0" font-size="17" fill="#000" textLength="147.1" lengthAdjust="spacingAndGlyphs">Ft Langley-Wlnt Grv</text>
<text transform="translate(1001.9 774.8) rotate(-45)" x="-84.0" y="0" font-size="17" fill="#000" textLength="84.0" lengthAdjust="spacingAndGlyphs">Abbotsford</text>
<text transform="translate(1052.2 774.8) rotate(-45)" x="-57.6" y="0" font-size="17" fill="#000" textLength="57.6" lengthAdjust="spacingAndGlyphs">Mission</text>
<text transform="translate(1102.5 774.8) rotate(-45)" x="-74.1" y="0" font-size="17" fill="#000" textLength="74.1" lengthAdjust="spacingAndGlyphs">Chilliwack</text>
<text transform="translate(1152.8 774.8) rotate(-45)" x="-60.6" y="0" font-size="17" fill="#000" textLength="60.6" lengthAdjust="spacingAndGlyphs">FV Total</text>
<text x="898" y="880.8" font-size="14.6" fill="#000" textLength="315.2" lengthAdjust="spacingAndGlyphs">All rights reserved and  images copyrighted</text>
<text x="55.8" y="903" font-size="16" fill="#000" textLength="1082.5" lengthAdjust="spacingAndGlyphs">Data is from : FVREB, REBGV, CADREB Real Estate Board and they assume no responsibility for its accuracy. By: Vancouver Market Reports</text>
</svg></body></html>
